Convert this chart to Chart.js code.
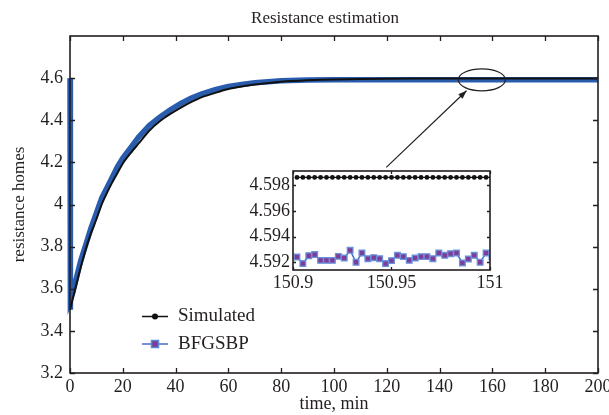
<!DOCTYPE html>
<html lang="en">
<head>
<meta charset="UTF-8" />
<title>Resistance estimation</title>
<script src="https://cdn.jsdelivr.net/npm/chart.js"></script>
<style>
  body { margin: 0; background: #fff; }
  #wrap { position: relative; width: 609px; height: 415px; overflow: hidden; }
  #mainChart { position: absolute; left: 0; top: 0; }
  #insetChart { position: absolute; left: 230px; top: 160px; }
</style>
</head>
<body>
<div id="wrap">
  <canvas id="mainChart" width="609" height="415"></canvas>
  <canvas id="insetChart" width="285" height="135"></canvas>
</div>

<script>
// ---- data ----
const simTime = [0, 1, 2, 3, 4, 5, 6, 8, 10, 12, 14, 16, 18, 20, 23, 26, 30, 34, 38, 42, 46, 50, 55, 60, 65, 70, 80, 90, 100, 120, 140, 160, 180, 200];
const simValues = [3.50, 3.55, 3.60, 3.65, 3.70, 3.745, 3.79, 3.865, 3.93, 4.00, 4.055, 4.105, 4.15, 4.195, 4.245, 4.29, 4.35, 4.395, 4.43, 4.46, 4.487, 4.51, 4.53, 4.548, 4.56, 4.57, 4.583, 4.59, 4.594, 4.597, 4.5986, 4.5986, 4.5986, 4.5986];

const bfgsTime = [0, 0, 0.3, 1, 2, 3, 4, 5, 6, 8, 10, 12, 14, 16, 18, 20, 23, 26, 30, 34, 38, 42, 46, 50, 55, 60, 65, 70, 80, 90, 100, 120, 140, 160, 180, 200];
const bfgsValues = [4.60, 3.50, 3.55, 3.58, 3.63, 3.68, 3.73, 3.77, 3.81, 3.89, 3.96, 4.03, 4.08, 4.13, 4.18, 4.22, 4.27, 4.32, 4.375, 4.415, 4.45, 4.48, 4.505, 4.525, 4.545, 4.56, 4.57, 4.578, 4.587, 4.591, 4.592, 4.5925, 4.5925, 4.5925, 4.5925, 4.5925];

const insetTime = [150.902, 150.905, 150.908, 150.911, 150.914, 150.917, 150.920, 150.923, 150.926, 150.929, 150.932, 150.935, 150.938, 150.941, 150.944, 150.947, 150.950, 150.953, 150.956, 150.959, 150.962, 150.965, 150.968, 150.971, 150.974, 150.977, 150.980, 150.983, 150.986, 150.989, 150.992, 150.995, 150.998, 151.001];
const insetSim = [4.5986, 4.5986, 4.5986, 4.5986, 4.5986, 4.5986, 4.5986, 4.5986, 4.5986, 4.5986, 4.5986, 4.5986, 4.5986, 4.5986, 4.5986, 4.5986, 4.5986, 4.5986, 4.5986, 4.5986, 4.5986, 4.5986, 4.5986, 4.5986, 4.5986, 4.5986, 4.5986, 4.5986, 4.5986, 4.5986, 4.5986, 4.5986, 4.5986, 4.5986];
const insetBfgs = [4.59241, 4.5919, 4.59251, 4.5926, 4.59215, 4.59215, 4.59215, 4.59246, 4.59233, 4.59293, 4.5920, 4.59272, 4.59228, 4.59236, 4.59228, 4.5919, 4.59213, 4.59254, 4.59244, 4.59215, 4.59233, 4.59244, 4.59244, 4.59228, 4.59272, 4.59254, 4.59267, 4.59272, 4.59195, 4.59226, 4.59254, 4.5920, 4.59272, 4.5924];

const mainXTicks = [0, 20, 40, 60, 80, 100, 120, 140, 160, 180, 200];
const mainYTicks = [3.2, 3.4, 3.6, 3.8, 4, 4.2, 4.4, 4.6];
const insetXTicks = [150.9, 150.95, 151];
const insetYTicks = [4.592, 4.594, 4.596, 4.598];

const seriesNames = ['Simulated', 'BFGSBP'];

// zoom marker (ellipse) and arrow, in data units of the main chart
const zoomMark = { x: 156, y: 4.592, rx: 23.5, ry: 11 };
const arrowFrom = { x: 119.8, y: 4.176 };
const arrowTo = { x: 150.2, y: 4.54 };

const SERIF = '"Liberation Serif", "DejaVu Serif", serif';
const INK = '#231f20';
const BLUE = '#2a5cae';

function pts(xs, ys) {
  return xs.map((x, i) => ({ x: x, y: ys[i] }));
}

// box around the plot with inward ticks on all four sides
function boxTicks(len) {
  return {
    id: 'boxTicks',
    afterDraw(chart) {
      const { ctx, chartArea: a, scales: { x, y } } = chart;
      ctx.save();
      ctx.strokeStyle = INK;
      ctx.lineWidth = 1.3;
      ctx.beginPath();
      x.ticks.forEach(t => {
        const px = Math.round(x.getPixelForValue(t.value)) + 0.5;
        ctx.moveTo(px, a.bottom); ctx.lineTo(px, a.bottom - len);
        ctx.moveTo(px, a.top); ctx.lineTo(px, a.top + len);
      });
      y.ticks.forEach(t => {
        const py = Math.round(y.getPixelForValue(t.value)) + 0.5;
        ctx.moveTo(a.left, py); ctx.lineTo(a.left + len, py);
        ctx.moveTo(a.right, py); ctx.lineTo(a.right - len, py);
      });
      ctx.stroke();
      ctx.lineWidth = 1.6;
      ctx.strokeRect(a.left, a.top, a.right - a.left, a.bottom - a.top);
      ctx.restore();
    }
  };
}

const mainExtras = {
  id: 'mainExtras',
  afterDraw(chart) {
    const { ctx, scales: { x, y } } = chart;
    ctx.save();
    // title
    ctx.fillStyle = INK;
    ctx.font = '17px ' + SERIF;
    ctx.textAlign = 'center';
    ctx.textBaseline = 'middle';
    ctx.fillText('Resistance estimation', 325, 19);

    // ellipse
    ctx.strokeStyle = INK;
    ctx.lineWidth = 1.2;
    ctx.beginPath();
    ctx.ellipse(x.getPixelForValue(zoomMark.x), y.getPixelForValue(zoomMark.y), zoomMark.rx, zoomMark.ry, 0, 0, Math.PI * 2);
    ctx.stroke();

    // arrow
    const x0 = x.getPixelForValue(arrowFrom.x), y0 = y.getPixelForValue(arrowFrom.y);
    const x1 = x.getPixelForValue(arrowTo.x), y1 = y.getPixelForValue(arrowTo.y);
    const ang = Math.atan2(y1 - y0, x1 - x0);
    ctx.beginPath();
    ctx.moveTo(x0, y0); ctx.lineTo(x1, y1);
    ctx.stroke();
    ctx.fillStyle = INK;
    ctx.beginPath();
    ctx.moveTo(x1, y1);
    ctx.lineTo(x1 - 9 * Math.cos(ang - 0.35), y1 - 9 * Math.sin(ang - 0.35));
    ctx.lineTo(x1 - 9 * Math.cos(ang + 0.35), y1 - 9 * Math.sin(ang + 0.35));
    ctx.closePath();
    ctx.fill();

    // legend
    const rows = [316.5, 344];
    ctx.lineWidth = 1.5;
    // Simulated
    ctx.strokeStyle = '#111';
    ctx.beginPath(); ctx.moveTo(142, rows[0]); ctx.lineTo(168, rows[0]); ctx.stroke();
    ctx.fillStyle = '#111';
    ctx.beginPath(); ctx.arc(155, rows[0], 3, 0, Math.PI * 2); ctx.fill();
    // BFGSBP
    ctx.strokeStyle = '#3f6fc8';
    ctx.beginPath(); ctx.moveTo(142, rows[1]); ctx.lineTo(168, rows[1]); ctx.stroke();
    ctx.fillStyle = '#7d3c98';
    ctx.fillRect(151.5, rows[1] - 3.5, 7, 7);
    ctx.strokeStyle = '#5a86d6';
    ctx.strokeRect(151.5, rows[1] - 3.5, 7, 7);

    ctx.fillStyle = INK;
    ctx.font = '19px ' + SERIF;
    ctx.textAlign = 'left';
    ctx.fillText(seriesNames[0], 178, rows[0]);
    ctx.fillText(seriesNames[1], 178, rows[1]);
    ctx.restore();
  }
};

new Chart(document.getElementById('mainChart'), {
  type: 'line',
  data: {
    datasets: [
      {
        label: seriesNames[0],
        data: pts(simTime, simValues),
        borderColor: '#111',
        borderWidth: 2,
        pointRadius: 0,
        tension: 0.2
      },
      {
        label: seriesNames[1],
        data: pts(bfgsTime, bfgsValues),
        borderColor: BLUE,
        borderWidth: 5.5,
        pointRadius: 0,
        tension: 0,
        clip: 4
      }
    ]
  },
  options: {
    responsive: false,
    animation: false,
    events: [],
    layout: { padding: { top: 36, right: 11, left: 0, bottom: 0 } },
    plugins: { legend: { display: false }, tooltip: { enabled: false } },
    scales: {
      x: {
        type: 'linear',
        min: 0, max: 200,
        afterFit(s) { s.height = 42; s.paddingLeft = 0; s.paddingRight = 0; },
        afterBuildTicks(s) { s.ticks = mainXTicks.map(v => ({ value: v })); },
        grid: { display: false, drawTicks: false },
        border: { display: false },
        ticks: { color: INK, font: { family: SERIF, size: 18 }, padding: 3, maxRotation: 0, autoSkip: false },
        title: { display: true, text: 'time, min', color: INK, font: { family: SERIF, size: 18 }, padding: { top: 0, bottom: 0 } }
      },
      y: {
        min: 3.2, max: 4.8,
        afterFit(s) { s.width = 70; s.paddingTop = 0; s.paddingBottom = 0; },
        afterBuildTicks(s) { s.ticks = mainYTicks.map(v => ({ value: v })); },
        grid: { display: false, drawTicks: false },
        border: { display: false },
        ticks: {
          color: INK, font: { family: SERIF, size: 18 }, padding: 7, autoSkip: false,
          callback: v => String(Math.round(v * 10) / 10)
        },
        title: { display: true, text: 'resistance homes', color: INK, font: { family: SERIF, size: 17 }, padding: { top: 9, bottom: 0 } }
      }
    }
  },
  plugins: [boxTicks(5), mainExtras]
});

const whiteArea = {
  id: 'whiteArea',
  beforeDraw(chart) {
    const { ctx, chartArea: a } = chart;
    ctx.save();
    ctx.fillStyle = '#fff';
    ctx.fillRect(a.left, a.top, a.right - a.left, a.bottom - a.top);
    ctx.restore();
  }
};

new Chart(document.getElementById('insetChart'), {
  type: 'line',
  data: {
    datasets: [
      {
        label: seriesNames[0],
        data: pts(insetTime, insetSim),
        borderColor: '#111',
        borderWidth: 1.2,
        pointStyle: 'circle',
        pointRadius: 2.4,
        pointBackgroundColor: '#111',
        pointBorderWidth: 0,
        tension: 0
      },
      {
        label: seriesNames[1],
        data: pts(insetTime, insetBfgs),
        borderColor: '#3f6fc8',
        borderWidth: 1.5,
        pointStyle: 'rect',
        pointRadius: 4,
        pointBackgroundColor: '#7d3c98',
        pointBorderColor: '#6a92dc',
        pointBorderWidth: 1.3,
        tension: 0
      }
    ]
  },
  options: {
    responsive: false,
    animation: false,
    events: [],
    layout: { padding: { top: 11, right: 25, left: 0, bottom: 0 } },
    plugins: { legend: { display: false }, tooltip: { enabled: false } },
    scales: {
      x: {
        type: 'linear',
        min: 150.9, max: 151,
        afterFit(s) { s.height = 25; s.paddingLeft = 0; s.paddingRight = 0; },
        afterBuildTicks(s) { s.ticks = insetXTicks.map(v => ({ value: v })); },
        grid: { display: false, drawTicks: false },
        border: { display: false },
        ticks: { color: INK, font: { family: SERIF, size: 18 }, padding: 2, maxRotation: 0, autoSkip: false,
          callback: v => String(Math.round(v * 100) / 100) }
      },
      y: {
        min: 4.5914, max: 4.5991,
        afterFit(s) { s.width = 63; s.paddingTop = 0; s.paddingBottom = 0; },
        afterBuildTicks(s) { s.ticks = insetYTicks.map(v => ({ value: v })); },
        grid: { display: false, drawTicks: false },
        border: { display: false },
        ticks: { color: INK, font: { family: SERIF, size: 18 }, padding: 3, autoSkip: false,
          callback: v => v.toFixed(3) }
      }
    }
  },
  plugins: [whiteArea, boxTicks(3)]
});
</script>
</body>
</html>
